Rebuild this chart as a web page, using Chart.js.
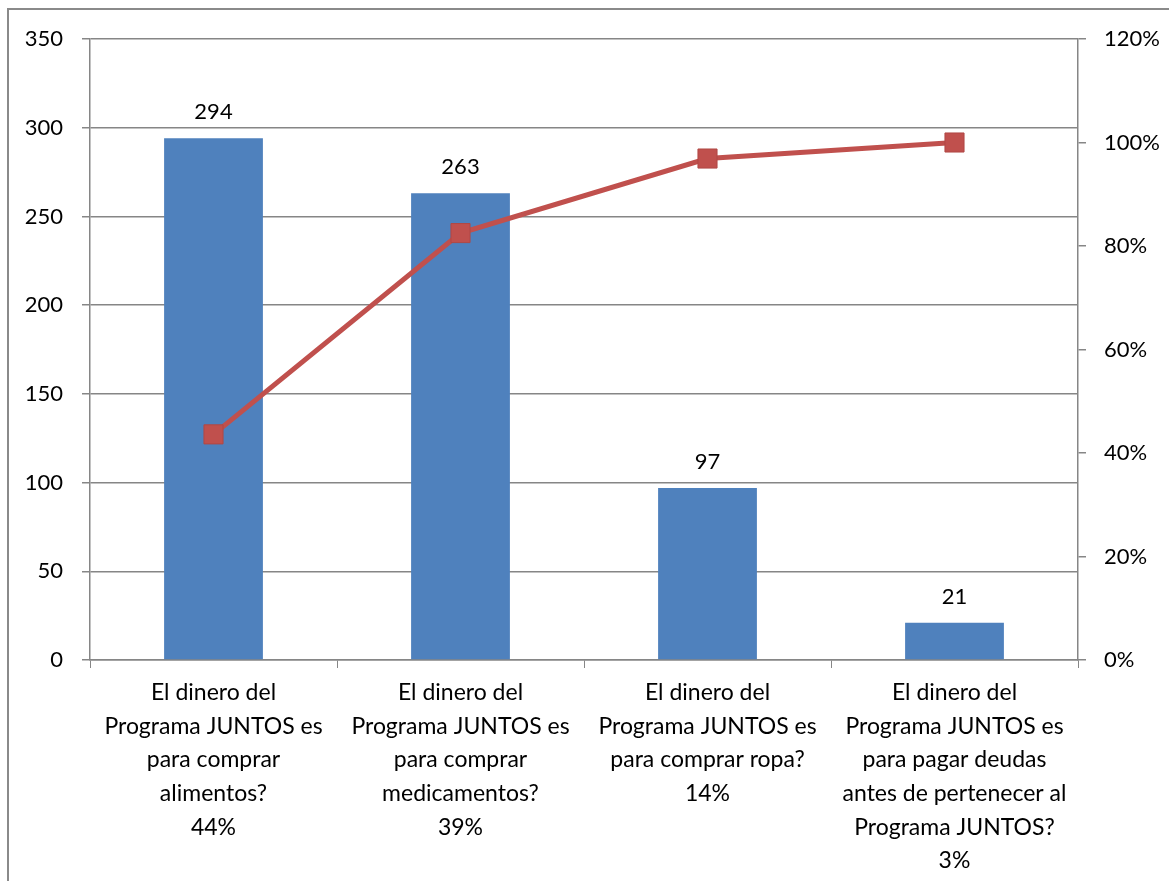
<!DOCTYPE html>
<html lang="es">
<head>
  <meta charset="UTF-8">
  <title>Programa JUNTOS - Pareto</title>
  <script src="https://cdn.jsdelivr.net/npm/chart.js"></script>
  <style>
    html, body { margin: 0; padding: 0; background: #fff; overflow: hidden; }
    #wrap { position: relative; width: 1169px; height: 881px; }
    #frame { position: absolute; left: 7px; top: 8px; width: 1180px; height: 900px; border: 2px solid #8a8a8a; box-sizing: border-box; }
    canvas { position: absolute; left: 0; top: 0; }
  </style>
</head>
<body>
  <div id="wrap">
    <div id="frame"></div>
    <canvas id="paretoChart" width="1169" height="881"></canvas>
  </div>

  <script>
    // Data
    const categories = [
      ['El dinero del', 'Programa JUNTOS es', 'para comprar', 'alimentos?', '44%'],
      ['El dinero del', 'Programa JUNTOS es', 'para comprar', 'medicamentos?', '39%'],
      ['El dinero del', 'Programa JUNTOS es', 'para comprar ropa?', '14%'],
      ['El dinero del', 'Programa JUNTOS es', 'para pagar deudas', 'antes de pertenecer al', 'Programa JUNTOS?', '3%']
    ];
    const counts = [294, 263, 97, 21];
    const cumulativePct = [43.6, 82.5, 96.9, 100];
    const leftTicks = [0, 50, 100, 150, 200, 250, 300, 350];
    const rightTicks = [0, 20, 40, 60, 80, 100, 120];

    const FONT = "Lato, 'Open Sans', sans-serif";
    const AXIS_GREY = '#868686';

    // draws the count above each bar
    const barValueLabels = {
      id: 'barValueLabels',
      afterDatasetsDraw(chart) {
        const ctx = chart.ctx;
        const meta = chart.getDatasetMeta(1);
        ctx.save();
        ctx.font = '22px ' + FONT;
        ctx.fillStyle = '#000';
        ctx.textAlign = 'center';
        ctx.textBaseline = 'middle';
        meta.data.forEach((bar, i) => {
          ctx.fillText(counts[i], bar.x, bar.y - 26);
        });
        ctx.restore();
      }
    };

    const ctx = document.getElementById('paretoChart').getContext('2d');
    new Chart(ctx, {
      type: 'bar',
      data: {
        labels: categories,
        datasets: [{
          type: 'line',
          label: 'Acumulado',
          data: cumulativePct,
          yAxisID: 'y1',
          borderColor: '#C0504D',
          backgroundColor: '#C0504D',
          borderWidth: 5,
          pointStyle: 'rect',
          pointRadius: 13.5,
          pointBorderWidth: 1,
          pointBorderColor: '#B04845',
          pointBackgroundColor: '#C0504D',
          tension: 0,
          order: 0
        }, {
          type: 'bar',
          label: 'Frecuencia',
          data: counts,
          yAxisID: 'y',
          backgroundColor: '#4F81BD',
          borderWidth: 0,
          barPercentage: 0.4,
          categoryPercentage: 1.0,
          order: 1
        }]
      },
      plugins: [barValueLabels],
      options: {
        responsive: false,
        animation: false,
        devicePixelRatio: 1,
        layout: { padding: { top: 39, left: 0, right: 0, bottom: 0 } },
        plugins: {
          legend: { display: false },
          tooltip: { enabled: false }
        },
        scales: {
          x: {
            offset: true,
            grid: { offset: true, drawOnChartArea: false, color: AXIS_GREY, tickLength: 8 },
            border: { color: AXIS_GREY, width: 1.5 },
            ticks: {
              autoSkip: false, maxRotation: 0, minRotation: 0, padding: 8,
              color: '#000',
              font: { family: FONT, size: 23, lineHeight: 1.46 }
            },
            afterFit(scale) { scale.height = 221; }
          },
          y: {
            position: 'left',
            min: 0, max: 350,
            afterBuildTicks(scale) { scale.ticks = leftTicks.map(v => ({ value: v })); },
            grid: { color: AXIS_GREY, lineWidth: 1.5, tickLength: 8 },
            border: { color: AXIS_GREY, width: 1.5 },
            ticks: {
              padding: 19, color: '#000',
              font: { family: FONT, size: 22 }
            },
            afterFit(scale) { scale.width = 90; }
          },
          y1: {
            position: 'right',
            min: 0, max: 120,
            afterBuildTicks(scale) { scale.ticks = rightTicks.map(v => ({ value: v })); },
            grid: { drawOnChartArea: false, color: AXIS_GREY, lineWidth: 1.5, tickLength: 8 },
            border: { color: AXIS_GREY, width: 1.5 },
            ticks: {
              padding: 18, color: '#000',
              font: { family: FONT, size: 22 },
              callback: v => v + '%'
            },
            afterFit(scale) { scale.width = 91; }
          }
        }
      }
    });
  </script>
</body>
</html>
